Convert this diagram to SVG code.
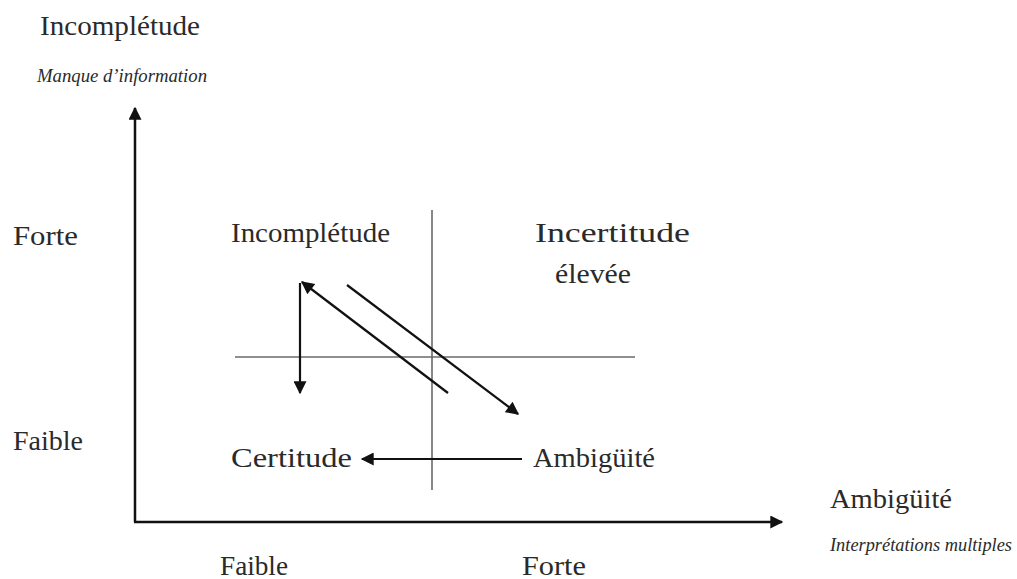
<svg xmlns="http://www.w3.org/2000/svg" width="1017" height="579" viewBox="0 0 1017 579">
<style>
text{font-family:"Liberation Serif","DejaVu Serif",serif;fill:#2a2a2a}
.t{font-size:28px}
.i{font-size:18px;font-style:italic}
.ax{stroke:#111;stroke-width:2.5;fill:none}
.dv{stroke:#6a6a6a;stroke-width:1.6;fill:none}
.ar{stroke:#111;stroke-width:2.2;fill:none}
</style>
<defs>
<marker id="ah" viewBox="0 0 10 10" refX="9" refY="5" markerWidth="15" markerHeight="13" markerUnits="userSpaceOnUse" orient="auto"><path d="M0,0 L10,5 L0,10 z" fill="#111"/></marker>
</defs>
<g id="axes">
<line class="ax" x1="135" y1="522" x2="135" y2="108" marker-end="url(#ah)"/>
<line class="ax" x1="134" y1="522" x2="782" y2="522" marker-end="url(#ah)"/>
<line class="dv" x1="432" y1="210" x2="432" y2="490"/>
<line class="dv" x1="235" y1="357" x2="635" y2="357"/>
</g>
<g id="connectors">
<line class="ar" x1="300" y1="283" x2="300" y2="393" marker-end="url(#ah)"/>
<line class="ar" x1="448" y1="393" x2="302" y2="282" marker-end="url(#ah)"/>
<line class="ar" x1="347" y1="285" x2="518" y2="414" marker-end="url(#ah)"/>
<line class="ar" x1="522" y1="459" x2="362" y2="459" marker-end="url(#ah)"/>
</g>
<g id="axis-labels">
<text class="t" x="40" y="35" textLength="160" lengthAdjust="spacingAndGlyphs">Incomplétude</text>
<text class="i" x="37" y="82" textLength="170" lengthAdjust="spacingAndGlyphs">Manque d’information</text>
<text class="t" x="13" y="245" textLength="65" lengthAdjust="spacingAndGlyphs">Forte</text>
<text class="t" x="13" y="450" textLength="70" lengthAdjust="spacingAndGlyphs">Faible</text>
<text class="t" x="830" y="508" textLength="122" lengthAdjust="spacingAndGlyphs">Ambigüité</text>
<text class="i" x="830" y="551" textLength="182" lengthAdjust="spacingAndGlyphs">Interprétations multiples</text>
<text class="t" x="220" y="575" textLength="68" lengthAdjust="spacingAndGlyphs">Faible</text>
<text class="t" x="522" y="575" textLength="64" lengthAdjust="spacingAndGlyphs">Forte</text>
</g>
<g id="node-incompletude"><text class="t" x="231" y="242" textLength="159" lengthAdjust="spacingAndGlyphs">Incomplétude</text></g>
<g id="node-incertitude"><text class="t" x="535" y="242" textLength="155" lengthAdjust="spacingAndGlyphs">Incertitude</text><text class="t" x="555" y="283" textLength="76" lengthAdjust="spacingAndGlyphs">élevée</text></g>
<g id="node-certitude"><text class="t" x="231" y="467" textLength="121" lengthAdjust="spacingAndGlyphs">Certitude</text></g>
<g id="node-ambiguite"><text class="t" x="533" y="467" textLength="122" lengthAdjust="spacingAndGlyphs">Ambigüité</text></g>
</svg>
